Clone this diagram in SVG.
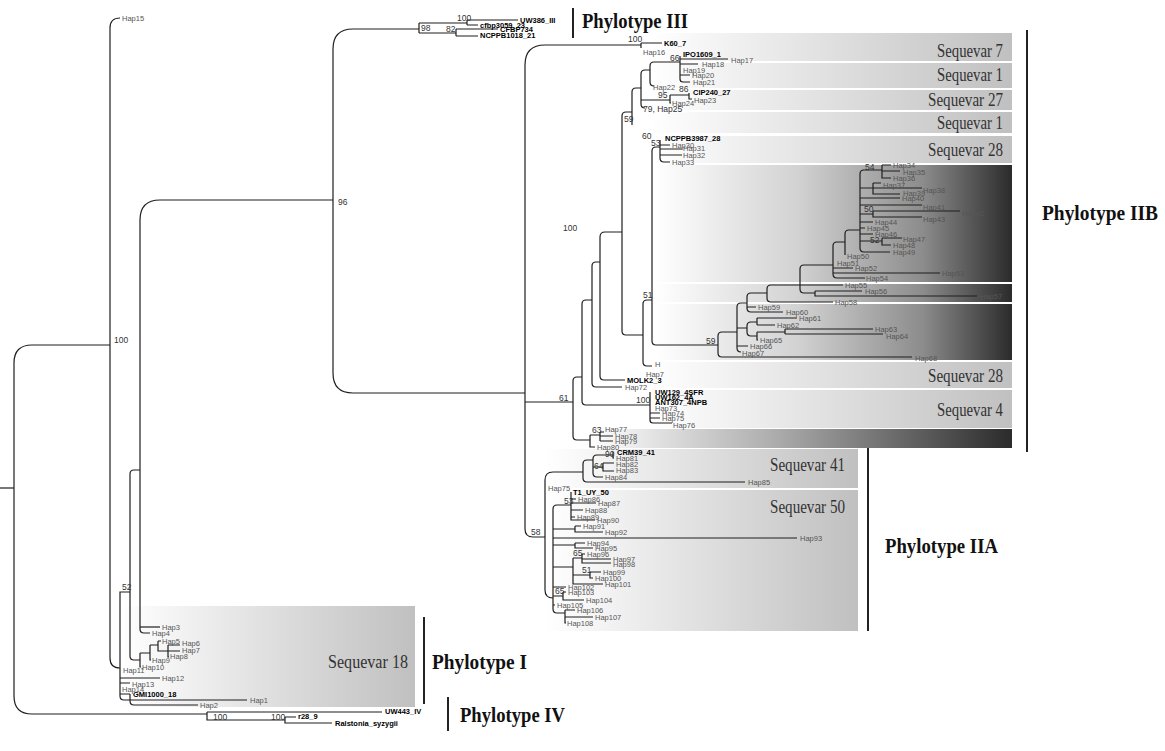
<svg xmlns="http://www.w3.org/2000/svg" width="1165" height="751" viewBox="0 0 1165 751">
<defs>
<linearGradient id="gL" x1="0" x2="1" y1="0" y2="0"><stop offset="0" stop-color="#ffffff"/><stop offset="1" stop-color="#c0c0c0"/></linearGradient>
<linearGradient id="gD" x1="0" x2="1" y1="0" y2="0"><stop offset="0" stop-color="#ffffff"/><stop offset="0.4" stop-color="#d2d2d2"/><stop offset="0.75" stop-color="#8c8c8c"/><stop offset="1" stop-color="#2b2b2b"/></linearGradient>
<linearGradient id="gS" x1="0" x2="1" y1="0" y2="0"><stop offset="0" stop-color="#ffffff"/><stop offset="0.45" stop-color="#aaaaaa"/><stop offset="1" stop-color="#2b2b2b"/></linearGradient>
<style>
.b{fill:none;stroke:#1e1e1e;stroke-width:1.2}
.h{font-family:"Liberation Sans Narrow","Liberation Sans",Arial,sans-serif;font-size:7.5px;fill:#555}
.s{font-family:"Liberation Sans Narrow","Liberation Sans",Arial,sans-serif;font-size:7.5px;font-weight:bold;fill:#000}
.n{font-family:"Liberation Sans Narrow","Liberation Sans",Arial,sans-serif;font-size:8.5px;fill:#333}
.q{font-family:"Liberation Serif","Times New Roman",serif;font-size:18px;fill:#333}
.p{font-family:"Liberation Serif","Times New Roman",serif;font-size:20px;font-weight:bold;fill:#111}
.bar{stroke:#222;stroke-width:2}
.t{opacity:0.999}
</style>
</defs>
<rect width="1165" height="751" fill="#fff"/>

<g id="boxes">
<rect x="650" y="33" width="362" height="28" fill="url(#gL)"/>
<rect x="650" y="63" width="362" height="25" fill="url(#gL)"/>
<rect x="650" y="90" width="362" height="20" fill="url(#gL)"/>
<rect x="650" y="112" width="362" height="21" fill="url(#gL)"/>
<rect x="650" y="136" width="362" height="27" fill="url(#gL)"/>
<rect x="655" y="165" width="357" height="117" fill="url(#gD)"/>
<rect x="655" y="284" width="357" height="18" fill="url(#gD)"/>
<rect x="655" y="304" width="357" height="56" fill="url(#gD)"/>
<rect x="650" y="362" width="362" height="26" fill="url(#gL)"/>
<rect x="650" y="390" width="362" height="38" fill="url(#gL)"/>
<rect x="590" y="429" width="422" height="19" fill="url(#gS)"/>
<rect x="545" y="449" width="313" height="39" fill="url(#gL)"/>
<rect x="545" y="490" width="313" height="141" fill="url(#gL)"/>
<rect x="120" y="606" width="295" height="101" fill="url(#gL)"/>
</g>

<g id="connectors">
<path class="b" d="M0,488 H14"/>
<path class="b" d="M110,345 H32 Q14,345 14,363 V696 Q14,714 32,714 H207"/>
<path class="b" d="M119,18 H120 Q110,18 110,28 V658 Q110,668 120,668"/>
<path class="b" d="M130,592 H120 V696 Q120,700 124,700 H247"/>
<path class="b" d="M120,678 H160 M120,683 H130"/>
<path class="b" d="M120,694 H130 M130,694 V701 Q130,705 134,705 H198"/>
<path class="b" d="M140,470 H134 Q130,470 130,474 V656 Q130,660 134,660 H140"/>
<path class="b" d="M150,633 H144 Q140,633 140,629 V220 Q140,200 160,200 H333"/>
<path class="b" d="M140,627 H160"/>
<path class="b" d="M140,653 V667 H141 M140,653 H150 M150,645 V660 H151 M150,645 H158 M158,641 H161 M158,641 V651 H168 M168,645 H180 M168,651 H180 M168,645 V657 H169"/>
<path class="b" d="M207,712 H382 M207,712 V720 H285 M285,717 H296 M285,717 V723 H332"/>
<path class="b" d="M419,29 H353 Q333,29 333,49 V373 Q333,393 353,393 H525"/>
<path class="b" d="M419,23 V33 M419,23 H467 M419,33 H456 M467,20 V25 M467,20 H518 M467,25 H478 M456,29 V36 M456,29 H498 M456,36 H478"/>
<path class="b" d="M641,45 H545 Q525,45 525,65 V529 Q525,537 533,537 H545"/>
<path class="b" d="M641,43 V48 M641,43 H662"/>
<path class="b" d="M525,402 H573 M582,377 H577 Q573,377 573,381 V436 Q573,440 577,440 H590"/>
<path class="b" d="M590,435 V447 H595 M590,435 H600 M600,432 V441 M600,432 H604 M600,436 H613 M600,441 H613"/>
<path class="b" d="M592,300 H586 Q582,300 582,304 V401 Q582,405 586,405 H650"/>
<path class="b" d="M600,262 H596 Q592,262 592,266 V383 Q592,387 596,387 H622"/>
<path class="b" d="M622,232 H605 Q600,232 600,237 V376 Q600,380 604,380 H625"/>
<path class="b" d="M632,112 H626 Q622,112 622,116 V331 Q622,335 626,335 H643"/>
<path class="b" d="M641,88 H636 Q632,88 632,92 V125"/>
<path class="b" d="M650,70 H645 Q641,70 641,74 V104 Q641,108 645,108 M641,100 H670"/>
<path class="b" d="M680,62 H654 Q650,62 650,66 V82 Q650,86 654,86"/>
<path class="b" d="M680,56 V79 Q680,82 683,82 H690 M680,59 H728 M680,64 H698 M680,75 H690"/>
<path class="b" d="M670,95 V103 H671 M670,95 H689 M689,93 V99 H692"/>
<path class="b" d="M650,392 V420 Q650,423 653,423 H672 M650,413 H660 M650,418 H660"/>
<path class="b" d="M660,147 H656 Q652,147 652,151 V341 Q652,345 656,345 H718"/>
<path class="b" d="M660,140 V158 Q660,162 664,162 H670 M660,145 H670 M660,149 H682 M660,155 H682"/>
<path class="b" d="M652,300 H647 Q643,300 643,304 V362 Q643,366 647,366 H652"/>
<path class="b" d="M737,332 H722 Q718,332 718,336 V353 Q718,357 722,357 H912"/>
<path class="b" d="M747,303 H741 Q737,303 737,307 V348 Q737,352 741,352 H740 M737,346 H748 M737,328 H747"/>
<path class="b" d="M767,293 H751 Q747,293 747,297 V308 Q747,312 751,312 H783 M747,307 H756"/>
<path class="b" d="M757,322 H751 Q747,322 747,326 V332 Q747,336 751,336 H757"/>
<path class="b" d="M757,318 V325 M757,318 H797 M757,325 H775 M757,332 V340 H758 M757,332 H785 M785,329 V334 M785,329 H873 M785,334 H883"/>
<path class="b" d="M800,285 H771 Q767,285 767,289 V298 Q767,302 771,302 H833"/>
<path class="b" d="M833,265 H804 Q800,265 800,269 V289 Q800,293 804,293 H815 M800,285 H843 M815,291 H862 M815,291 V296 H977"/>
<path class="b" d="M845,242 H837 Q833,242 833,246 V274 Q833,278 837,278 H865 M833,268 H853 M833,273 H940"/>
<path class="b" d="M860,230 H849 Q845,230 845,234 V255"/>
<path class="b" d="M882,170 H864 Q860,170 860,174 V248 Q860,252 864,252 H890"/>
<path class="b" d="M882,165 V178 H891 M882,165 H891 M882,171 H900"/>
<path class="b" d="M860,188 H873 M873,183 V194 H900 M873,183 H881 M873,188 H922"/>
<path class="b" d="M860,198 H900 M860,205 H922 M860,214 H873 M873,211 V217 H922 M873,211 H960 M860,222 H873 M860,228 H865 M860,234 H873"/>
<path class="b" d="M860,241 H882 M882,238 V245 H891 M882,238 H902"/>
<path class="b" d="M583,472 H553 Q545,472 545,480 V590 Q545,598 553,598"/>
<path class="b" d="M593,460 H587 Q583,460 583,464 V478 Q583,482 587,482 H745"/>
<path class="b" d="M613,455 H597 Q593,455 593,459 V473 Q593,477 597,477 H603 M593,467 H603 M603,463 V471 H614 M603,463 H614 M613,452 V458 H614"/>
<path class="b" d="M571,505 H557 Q553,505 553,509 V609 Q553,613 557,613 H565"/>
<path class="b" d="M571,492 V520 H595 M571,499 H576 M571,503 H596 M571,510 H583 M571,517 H575"/>
<path class="b" d="M553,529 H575 M575,526 V532 H603 M575,526 H581 M553,538 H797 M553,545 H575 M575,543 V548 H593 M575,543 H585"/>
<path class="b" d="M553,567 H573 M573,558 V584 H603 M573,558 H582 M582,554 V563 H611 M582,554 H585 M582,559 H611 M573,575 H590 M590,572 V578 H593 M590,572 H601"/>
<path class="b" d="M553,587 H566 M553,596 H563 M563,592 V600 H584 M563,592 H566 M553,605 H555 M565,610 V623 H566 M565,610 H575 M565,617 H593"/>
</g>

<g id="masks" fill="#fff">
<rect x="640" y="110" width="50" height="2.5"/>
<rect x="640" y="133" width="16" height="2.5"/>
</g>

<g id="node-phylotype-I" class="t">
<text class="h" x="122" y="21">Hap15</text>
<text class="n" x="114" y="343">100</text>
<text class="n" x="122" y="590">52</text>
<text class="h" x="162" y="630">Hap3</text>
<text class="h" x="152" y="636">Hap4</text>
<text class="h" x="162" y="644">Hap5</text>
<text class="h" x="182" y="646">Hap6</text>
<text class="h" x="182" y="653">Hap7</text>
<text class="h" x="170" y="659">Hap8</text>
<text class="h" x="152" y="663">Hap9</text>
<text class="h" x="142" y="670">Hap10</text>
<text class="h" x="123" y="673">Hap11</text>
<text class="h" x="162" y="681">Hap12</text>
<text class="h" x="132" y="687">Hap13</text>
<text class="h" x="122" y="692">Hap14</text>
<text class="s" x="133" y="697">GMI1000_18</text>
<text class="h" x="250" y="703">Hap1</text>
<text class="h" x="200" y="708">Hap2</text>
<text class="q" x="328" y="668" textLength="80" lengthAdjust="spacingAndGlyphs">Sequevar 18</text>
<line class="bar" x1="424" y1="617" x2="424" y2="704"/>
<text class="p" x="432" y="669" textLength="95" lengthAdjust="spacingAndGlyphs">Phylotype I</text>
</g>

<g id="node-phylotype-IV" class="t">
<text class="n" x="213" y="720">100</text>
<text class="n" x="271" y="720">100</text>
<text class="s" x="385" y="714">UW443_IV</text>
<text class="s" x="298" y="719">r28_9</text>
<text class="s" x="335" y="726">Ralstonia_syzygii</text>
<line class="bar" x1="448" y1="697" x2="448" y2="731"/>
<text class="p" x="460" y="722" textLength="105" lengthAdjust="spacingAndGlyphs">Phylotype IV</text>
</g>

<g id="node-phylotype-III" class="t">
<text class="n" x="338" y="205">96</text>
<text class="n" x="457" y="21">100</text>
<text class="s" x="520" y="23">UW386_III</text>
<text class="s" x="480" y="28">cfbp3059_23</text>
<text class="n" x="421" y="31">98</text>
<text class="n" x="446" y="32">82</text>
<text class="s" x="500" y="32">CFBP734</text>
<text class="s" x="480" y="38">NCPPB1018_21</text>
<line class="bar" x1="573" y1="8" x2="573" y2="38"/>
<text class="p" x="582" y="28" textLength="106" lengthAdjust="spacingAndGlyphs">Phylotype III</text>
</g>

<g id="node-phylotype-IIB" class="t">
<text class="n" x="628" y="42">100</text>
<text class="s" x="664" y="46">K60_7</text>
<text class="h" x="643" y="55">Hap16</text>
<text class="s" x="683" y="57">IPO1609_1</text>
<text class="n" x="670" y="61">66</text>
<text class="h" x="731" y="63">Hap17</text>
<text class="h" x="702" y="67">Hap18</text>
<text class="h" x="683" y="73">Hap19</text>
<text class="h" x="692" y="78">Hap20</text>
<text class="h" x="693" y="85">Hap21</text>
<text class="h" x="653" y="90">Hap22</text>
<text class="n" x="679" y="92">86</text>
<text class="s" x="693" y="95">CIP240_27</text>
<text class="n" x="658" y="98">95</text>
<text class="h" x="694" y="103">Hap23</text>
<text class="h" x="672" y="106">Hap24</text>
<text class="n" x="643" y="112">79, Hap25</text>
<text class="n" x="624" y="122">59</text>
<text class="n" x="642" y="139">60</text>
<text class="s" x="665" y="141">NCPPB3987_28</text>
<text class="n" x="651" y="146">53</text>
<text class="h" x="672" y="148">Hap30</text>
<text class="h" x="683" y="151">Hap31</text>
<text class="h" x="683" y="158">Hap32</text>
<text class="h" x="672" y="165">Hap33</text>
<text class="h" x="893" y="168">Hap34</text>
<text class="n" x="865" y="170">54</text>
<text class="h" x="903" y="175">Hap35</text>
<text class="h" x="893" y="181">Hap36</text>
<text class="h" x="883" y="188">Hap37</text>
<text class="h" x="923" y="193">Hap38</text>
<text class="h" x="903" y="196">Hap39</text>
<text class="h" x="902" y="201">Hap40</text>
<text class="h" x="923" y="210">Hap41</text>
<text class="n" x="864" y="212">50</text>
<text class="h" x="962" y="216">Hap42</text>
<text class="h" x="923" y="222">Hap43</text>
<text class="h" x="875" y="225">Hap44</text>
<text class="h" x="867" y="231">Hap45</text>
<text class="h" x="875" y="237">Hap46</text>
<text class="h" x="903" y="242">Hap47</text>
<text class="n" x="870" y="243">52</text>
<text class="h" x="893" y="248">Hap48</text>
<text class="h" x="893" y="255">Hap49</text>
<text class="h" x="847" y="259">Hap50</text>
<text class="h" x="837" y="266">Hap51</text>
<text class="h" x="855" y="271">Hap52</text>
<text class="h" x="942" y="276">Hap53</text>
<text class="h" x="866" y="281">Hap54</text>
<text class="h" x="845" y="288">Hap55</text>
<text class="h" x="865" y="294">Hap56</text>
<text class="h" x="980" y="299">Hap57</text>
<text class="n" x="643" y="298">51</text>
<text class="h" x="835" y="305">Hap58</text>
<text class="h" x="758" y="310">Hap59</text>
<text class="h" x="786" y="315">Hap60</text>
<text class="h" x="799" y="321">Hap61</text>
<text class="h" x="777" y="328">Hap62</text>
<text class="h" x="875" y="332">Hap63</text>
<text class="h" x="886" y="339">Hap64</text>
<text class="h" x="760" y="343">Hap65</text>
<text class="n" x="706" y="344">59</text>
<text class="h" x="750" y="349">Hap66</text>
<text class="h" x="742" y="356">Hap67</text>
<text class="h" x="915" y="361">Hap68</text>
<text class="h" x="655" y="367">H</text>
<text class="h" x="646" y="377">Hap7</text>
<text class="s" x="627" y="383">MOLK2_3</text>
<text class="h" x="625" y="390">Hap72</text>
<text class="s" x="655" y="395">UW129_4SFR</text>
<text class="s" x="655" y="400">UW162_4A</text>
<text class="n" x="559" y="401">61</text>
<text class="n" x="636" y="403">100</text>
<text class="s" x="655" y="405">ANT307_4NPB</text>
<text class="h" x="655" y="411">Hap73</text>
<text class="h" x="662" y="416">Hap74</text>
<text class="h" x="662" y="421">Hap75</text>
<text class="h" x="673" y="428">Hap76</text>
<text class="h" x="605" y="432">Hap77</text>
<text class="n" x="592" y="433">63</text>
<text class="h" x="615" y="439">Hap78</text>
<text class="h" x="615" y="444">Hap79</text>
<text class="h" x="597" y="450">Hap80</text>
<text class="n" x="563" y="231">100</text>
<text class="q" x="937" y="57" textLength="66" lengthAdjust="spacingAndGlyphs">Sequevar 7</text>
<text class="q" x="937" y="81" textLength="66" lengthAdjust="spacingAndGlyphs">Sequevar 1</text>
<text class="q" x="928" y="106" textLength="75" lengthAdjust="spacingAndGlyphs">Sequevar 27</text>
<text class="q" x="937" y="129" textLength="66" lengthAdjust="spacingAndGlyphs">Sequevar 1</text>
<text class="q" x="928" y="156" textLength="75" lengthAdjust="spacingAndGlyphs">Sequevar 28</text>
<text class="q" x="928" y="382" textLength="75" lengthAdjust="spacingAndGlyphs">Sequevar 28</text>
<text class="q" x="937" y="416" textLength="66" lengthAdjust="spacingAndGlyphs">Sequevar 4</text>
<line class="bar" x1="1027" y1="30" x2="1027" y2="452"/>
<text class="p" x="1042" y="220" textLength="116" lengthAdjust="spacingAndGlyphs">Phylotype IIB</text>
</g>

<g id="node-phylotype-IIA" class="t">
<text class="n" x="531" y="535">58</text>
<text class="s" x="617" y="455">CRM39_41</text>
<text class="n" x="605" y="457">90</text>
<text class="h" x="616" y="461">Hap81</text>
<text class="h" x="616" y="467">Hap82</text>
<text class="n" x="594" y="469">64</text>
<text class="h" x="616" y="473">Hap83</text>
<text class="h" x="605" y="480">Hap84</text>
<text class="h" x="748" y="485">Hap85</text>
<text class="h" x="548" y="491">Hap75</text>
<text class="s" x="573" y="495">T1_UY_50</text>
<text class="h" x="578" y="502">Hap86</text>
<text class="n" x="564" y="504">53</text>
<text class="h" x="598" y="506">Hap87</text>
<text class="h" x="585" y="513">Hap88</text>
<text class="h" x="577" y="520">Hap89</text>
<text class="h" x="597" y="523">Hap90</text>
<text class="h" x="583" y="529">Hap91</text>
<text class="h" x="605" y="535">Hap92</text>
<text class="h" x="800" y="541">Hap93</text>
<text class="h" x="587" y="546">Hap94</text>
<text class="h" x="595" y="551">Hap95</text>
<text class="n" x="573" y="556">65</text>
<text class="h" x="587" y="557">Hap96</text>
<text class="h" x="613" y="562">Hap97</text>
<text class="h" x="613" y="567">Hap98</text>
<text class="n" x="582" y="573">51</text>
<text class="h" x="603" y="575">Hap99</text>
<text class="h" x="595" y="581">Hap100</text>
<text class="h" x="605" y="587">Hap101</text>
<text class="h" x="568" y="590">Hap102</text>
<text class="n" x="555" y="594">65</text>
<text class="h" x="568" y="595">Hap103</text>
<text class="h" x="586" y="603">Hap104</text>
<text class="h" x="557" y="608">Hap105</text>
<text class="h" x="577" y="613">Hap106</text>
<text class="h" x="595" y="620">Hap107</text>
<text class="h" x="567" y="626">Hap108</text>
<text class="q" x="770" y="471" textLength="75" lengthAdjust="spacingAndGlyphs">Sequevar 41</text>
<text class="q" x="770" y="513" textLength="75" lengthAdjust="spacingAndGlyphs">Sequevar 50</text>
<line class="bar" x1="868" y1="448" x2="868" y2="631"/>
<text class="p" x="885" y="553" textLength="113" lengthAdjust="spacingAndGlyphs">Phylotype IIA</text>
</g>
</svg>
